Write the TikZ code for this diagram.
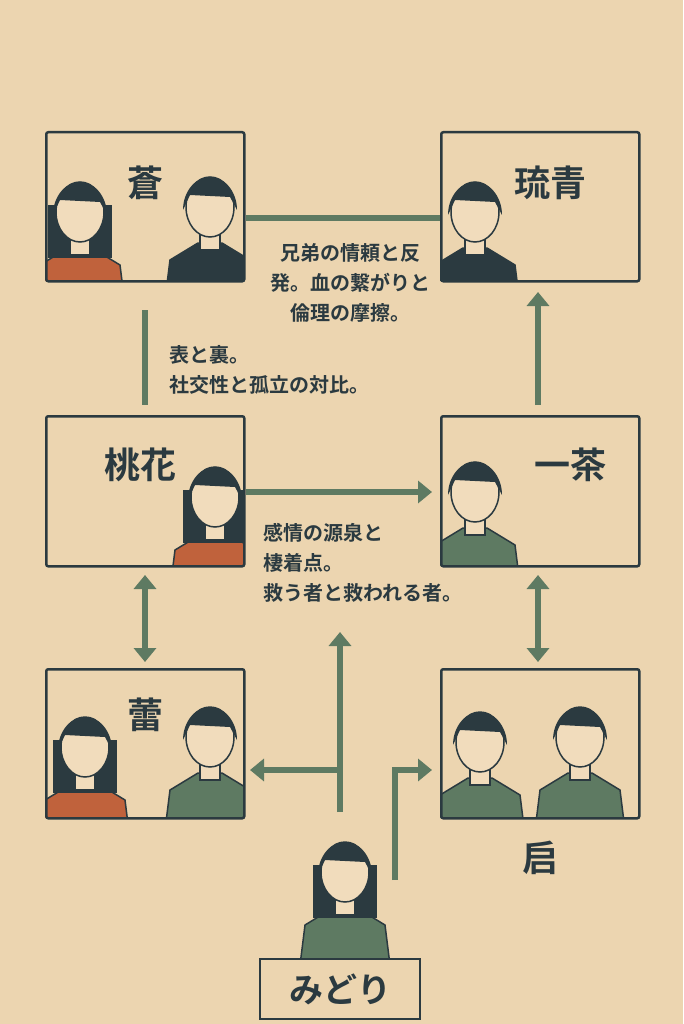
\documentclass[tikz,border=0pt]{standalone}
\usepackage{fontspec}
\newfontfamily\cjk{Noto Sans CJK JP}[BoldFont={* Bold}]
\usetikzlibrary{arrows.meta}
\definecolor{bg}{HTML}{ECD5B0}
\definecolor{ink}{HTML}{2B3A40}
\definecolor{grn}{HTML}{5E7A62}
\definecolor{skin}{HTML}{F1DCBC}
\definecolor{rust}{HTML}{C0623C}
\tikzset{
  card/.style={draw=ink,line width=2.5pt,rounded corners=2pt},
  link/.style={draw=grn,line width=6pt},
  arr/.style={link,-{Triangle[length=14pt,width=22pt]}},
  darr/.style={link,{Triangle[length=14pt,width=22pt]}-{Triangle[length=14pt,width=22pt]}},
  nm/.style={font=\cjk\bfseries\fontsize{36}{40}\selectfont,text=ink},
  txt/.style={font=\cjk\bfseries\fontsize{20}{30}\selectfont,text=ink,align=left},
}
% person: x, y(head centre), shirt colour, long hair(1/0)
\newcommand{\pers}[4]{%
  \fill[#3,draw=ink,line width=1.5pt] (#1-45,#2+95) -- (#1-40,#2+55) -- (#1-12,#2+38) -- (#1+12,#2+38) -- (#1+40,#2+55) -- (#1+45,#2+95) -- cycle;
  \ifnum#4=1 \fill[ink] (#1-32,#2-5) rectangle (#1+32,#2+48);\fi
  \fill[skin,draw=ink,line width=1.5pt] (#1-10,#2+25) rectangle (#1+10,#2+45);
  \fill[skin,draw=ink,line width=1.5pt] (#1,#2+2) ellipse (24 and 30);
  \fill[ink] (#1-27,#2+5) arc[start angle=180,end angle=360,x radius=27,y radius=33] -- (#1+20,#2-8) -- (#1-20,#2-10) -- cycle;
}
\begin{document}
\begin{tikzpicture}[x=1pt,y=-1pt]
\fill[bg] (0,0) rectangle (683,1024);
\useasboundingbox (0,0) rectangle (683,1024);
\begin{scope}\clip (45,131) rectangle (243,280);
 \pers{80}{210}{rust}{1} \pers{210}{205}{ink}{0} \end{scope}
\begin{scope}\clip (440,131) rectangle (638,280);
 \pers{475}{210}{ink}{0} \end{scope}
\begin{scope}\clip (45,415) rectangle (243,565);
 \pers{215}{495}{rust}{1} \end{scope}
\begin{scope}\clip (440,415) rectangle (638,565);
 \pers{475}{490}{grn}{0} \end{scope}
\begin{scope}\clip (45,668) rectangle (243,817);
 \pers{85}{745}{rust}{1} \pers{210}{735}{grn}{0} \end{scope}
\begin{scope}\clip (440,668) rectangle (638,817);
 \pers{480}{740}{grn}{0} \pers{580}{735}{grn}{0} \end{scope}
\begin{scope}\clip (250,800) rectangle (430,960);
 \pers{345}{870}{grn}{1} \end{scope}
\node[card,minimum width=198pt,minimum height=149pt,anchor=north west] (A) at (45,131) {};
\node[card,minimum width=198pt,minimum height=149pt,anchor=north west] (B) at (440,131) {};
\node[card,minimum width=198pt,minimum height=150pt,anchor=north west] (C) at (45,415) {};
\node[card,minimum width=198pt,minimum height=150pt,anchor=north west] (D) at (440,415) {};
\node[card,minimum width=198pt,minimum height=149pt,anchor=north west] (E) at (45,668) {};
\node[card,minimum width=198pt,minimum height=149pt,anchor=north west] (F) at (440,668) {};
\node[nm] (nA) at (145,183) {蒼};
\node[nm] (nB) at (550,183) {琉青};
\node[nm] (nC) at (140,465) {桃花};
\node[nm] (nD) at (570,465) {一茶};
\node[nm] (nE) at (145,715) {蕾};
\node[nm] (nF) at (540,858) {启};
\node[draw=ink,line width=2.5pt,fill=bg,minimum width=160pt,minimum height=60pt,font=\cjk\bfseries\fontsize{34}{38}\selectfont,text=ink] (M) at (340,989) {みどり};
\coordinate (a1) at (145,310); \coordinate (a2) at (145,405);
\draw[link] (A.east|-0,218) -- (B.west|-0,218);
\draw[link] (a1) -- (a2);
\draw[arr] (C.east|-0,492) -- (432,492);
\draw[arr] (538,405) -- (538,292);
\draw[darr] (145,575) -- (145,662);
\draw[darr] (538,575) -- (538,662);
\coordinate (m1) at (340,812); \coordinate (m2) at (340,770);
\draw[arr] (m1) -- (340,632);
\draw[arr] (m2) -- (250,770);
\coordinate (m3) at (395,880);
\draw[link,-{Triangle[length=14pt,width=22pt]}] (m3) -- (395,770) -- (432,770);
\node[txt,align=center] (t1) at (350,283) {兄弟の情頼と反\\発。血の繋がりと\\倫理の摩擦。};
\node[txt,anchor=west] (t2) at (166,370) {表と裏。\\社交性と孤立の対比。};
\node[txt,anchor=west] (t3) at (260,563) {感情の源泉と\\棲着点。\\救う者と救われる者。};
\end{tikzpicture}
\end{document}
